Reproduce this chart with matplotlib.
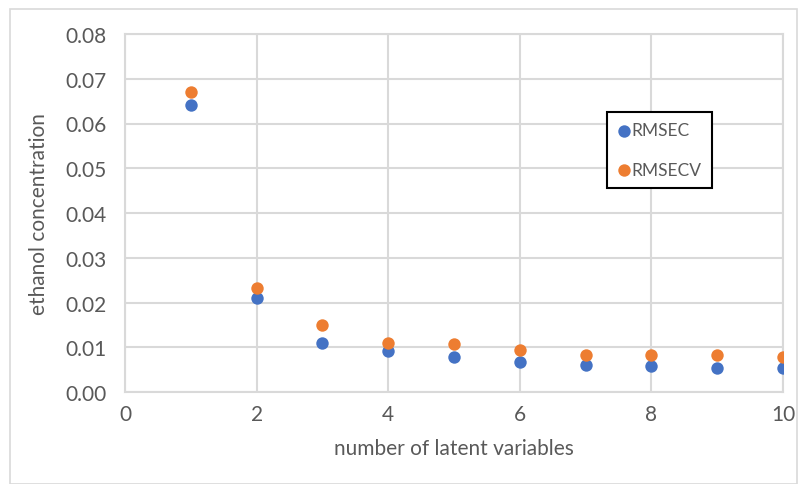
import matplotlib
matplotlib.use("Agg")
import matplotlib.pyplot as plt
from matplotlib.patches import Rectangle

# Data
latent_vars = [1, 2, 3, 4, 5, 6, 7, 8, 9, 10]
rmsec = [0.0641, 0.0210, 0.0110, 0.0092, 0.0078, 0.0067, 0.0060, 0.0058, 0.0054, 0.0054]
rmsecv = [0.0670, 0.0232, 0.0150, 0.0110, 0.0107, 0.0094, 0.0083, 0.0083, 0.0083, 0.0078]
x_ticks = [0, 2, 4, 6, 8, 10]
y_ticks = [0.00, 0.01, 0.02, 0.03, 0.04, 0.05, 0.06, 0.07, 0.08]

plt.rcParams['font.family'] = ['Lato', 'DejaVu Sans']
text_col = '#595959'
grid_col = '#d9d9d9'

fig = plt.figure(figsize=(7.99, 4.85), dpi=100)
W, H = 799, 485
ax = fig.add_axes([125/W, 1-393/H, (783-125)/W, (393-35)/H])

# Outer chart border
fig.patches.append(Rectangle((10/W, 0), (797-10)/W, 1-10/H, transform=fig.transFigure,
                             fill=False, edgecolor=grid_col, linewidth=1.2))

ax.scatter(latent_vars, rmsec, s=80, color='#4472C4', label='RMSEC', zorder=3, linewidths=0)
ax.scatter(latent_vars, rmsecv, s=80, color='#ED7D31', label='RMSECV', zorder=3, linewidths=0)

ax.set_xlim(0, 10)
ax.set_ylim(0, 0.08)
ax.set_xticks(x_ticks)
ax.set_yticks(y_ticks)
ax.set_yticklabels(['%.2f' % v for v in y_ticks])
ax.grid(True, color=grid_col, linewidth=1.5, zorder=0)
ax.set_axisbelow(True)
for s in ax.spines.values():
    s.set_color(grid_col)
    s.set_linewidth(1.5)
ax.tick_params(length=0, labelsize=15, colors=text_col)
ax.tick_params(axis='y', pad=13)
ax.tick_params(axis='x', pad=9)

ax.set_xlabel('number of latent variables', fontsize=15, color=text_col, labelpad=10)
ax.set_ylabel('ethanol concentration', fontsize=15, color=text_col, labelpad=12)

leg = ax.legend(loc='upper left', bbox_to_anchor=(607/W, 1-113/H), bbox_transform=fig.transFigure,
                fancybox=False, edgecolor='black', framealpha=1, fontsize=12.5,
                handletextpad=0.0, labelspacing=1.35, borderpad=0.6, borderaxespad=0,
                handlelength=0.8, markerscale=1.0)
leg.get_frame().set_linewidth(1.5)
for t in leg.get_texts():
    t.set_color(text_col)

fig.savefig('out.png', dpi=100)
